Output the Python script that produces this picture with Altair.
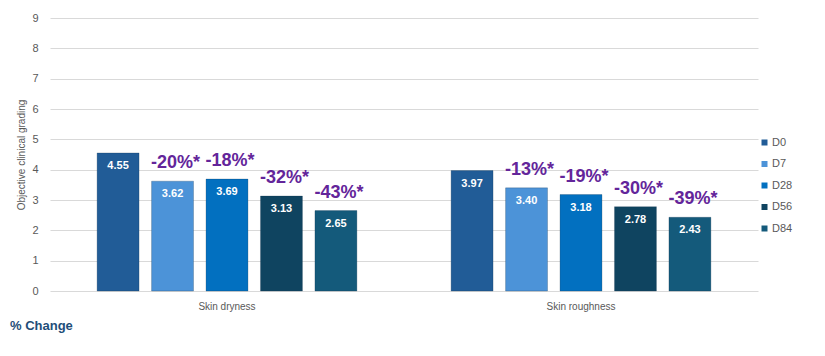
import altair as alt
import pandas as pd

categories = ["Skin dryness", "Skin roughness"]
days = ["D0", "D7", "D28", "D56", "D84"]
dryness = [4.55, 3.62, 3.69, 3.13, 2.65]
roughness = [3.97, 3.40, 3.18, 2.78, 2.43]
dryness_change = ["", "-20%*", "-18%*", "-32%*", "-43%*"]
roughness_change = ["", "-13%*", "-19%*", "-30%*", "-39%*"]
colors = ["#215C97", "#4C93D8", "#0270C0", "#0F4460", "#145A7B"]

rows = []
for cat, vals, chg in [(categories[0], dryness, dryness_change),
                       (categories[1], roughness, roughness_change)]:
    for d, v, c in zip(days, vals, chg):
        rows.append({"cat": cat, "day": d, "value": v,
                     "label": f"{v:.2f}", "change": c})
df = pd.DataFrame(rows)

FONT = "Liberation Sans"
W, H = 708, 273

x = alt.X("cat:N", sort=categories, title=None,
          scale=alt.Scale(paddingInner=0, paddingOuter=0),
          axis=alt.Axis(labelAngle=0, ticks=False, domain=False,
                        labelFontSize=10, labelColor="#595959",
                        labelPadding=10, labelFont=FONT))
xo = alt.XOffset("day:N", sort=days,
                 scale=alt.Scale(paddingInner=0.23, paddingOuter=0.865))
y = alt.Y("value:Q", title="Objective clinical grading",
          scale=alt.Scale(domain=[0, 9]),
          axis=alt.Axis(values=list(range(10)), ticks=False, domain=False,
                        gridColor="#D9D9D9", labelColor="#595959",
                        labelFontSize=11, labelPadding=12, labelFont=FONT,
                        titleFontSize=10, titleFontWeight="normal",
                        titleColor="#595959", titlePadding=5, titleFont=FONT))

base = alt.Chart(df)

bars = base.mark_bar(stroke="#10304d", strokeOpacity=0.25, strokeWidth=1).encode(
    x=x, xOffset=xo, y=y,
    color=alt.Color("day:N", sort=days,
                    scale=alt.Scale(domain=days, range=colors),
                    legend=alt.Legend(title=None, orient="none",
                                      legendX=W + 1, legendY=119,
                                      symbolType="square", symbolSize=36,
                                      symbolStrokeWidth=0,
                                      labelFontSize=11, labelColor="#595959",
                                      labelFont=FONT, rowPadding=9.5,
                                      labelOffset=2)),
)

vals = base.mark_text(color="white", fontWeight="bold", fontSize=11,
                      baseline="middle", dy=13, font=FONT).encode(
    x=x, xOffset=xo, y=y, text="label:N")

chg = base.mark_text(color="#63259A", fontWeight="bold", fontSize=18,
                     baseline="middle", dy=-18, dx=3, font=FONT).encode(
    x=x, xOffset=xo, y=y, text="change:N")

note = alt.Chart(pd.DataFrame({"t": ["% Change"]})).mark_text(
    color="#1F4E79", fontWeight="bold", fontSize=13, align="left",
    baseline="middle", font=FONT).encode(
    x=alt.value(-40), y=alt.value(H + 35), text="t:N")

chart = alt.layer(bars, vals, chg, note).properties(
    width=W, height=H,
    autosize=alt.AutoSizeParams(type="none"),
    padding={"left": 42, "top": 10, "right": 59, "bottom": 45},
).configure_view(stroke=None)

chart.save("out.html", embed_options={"renderer": "svg", "actions": False})
